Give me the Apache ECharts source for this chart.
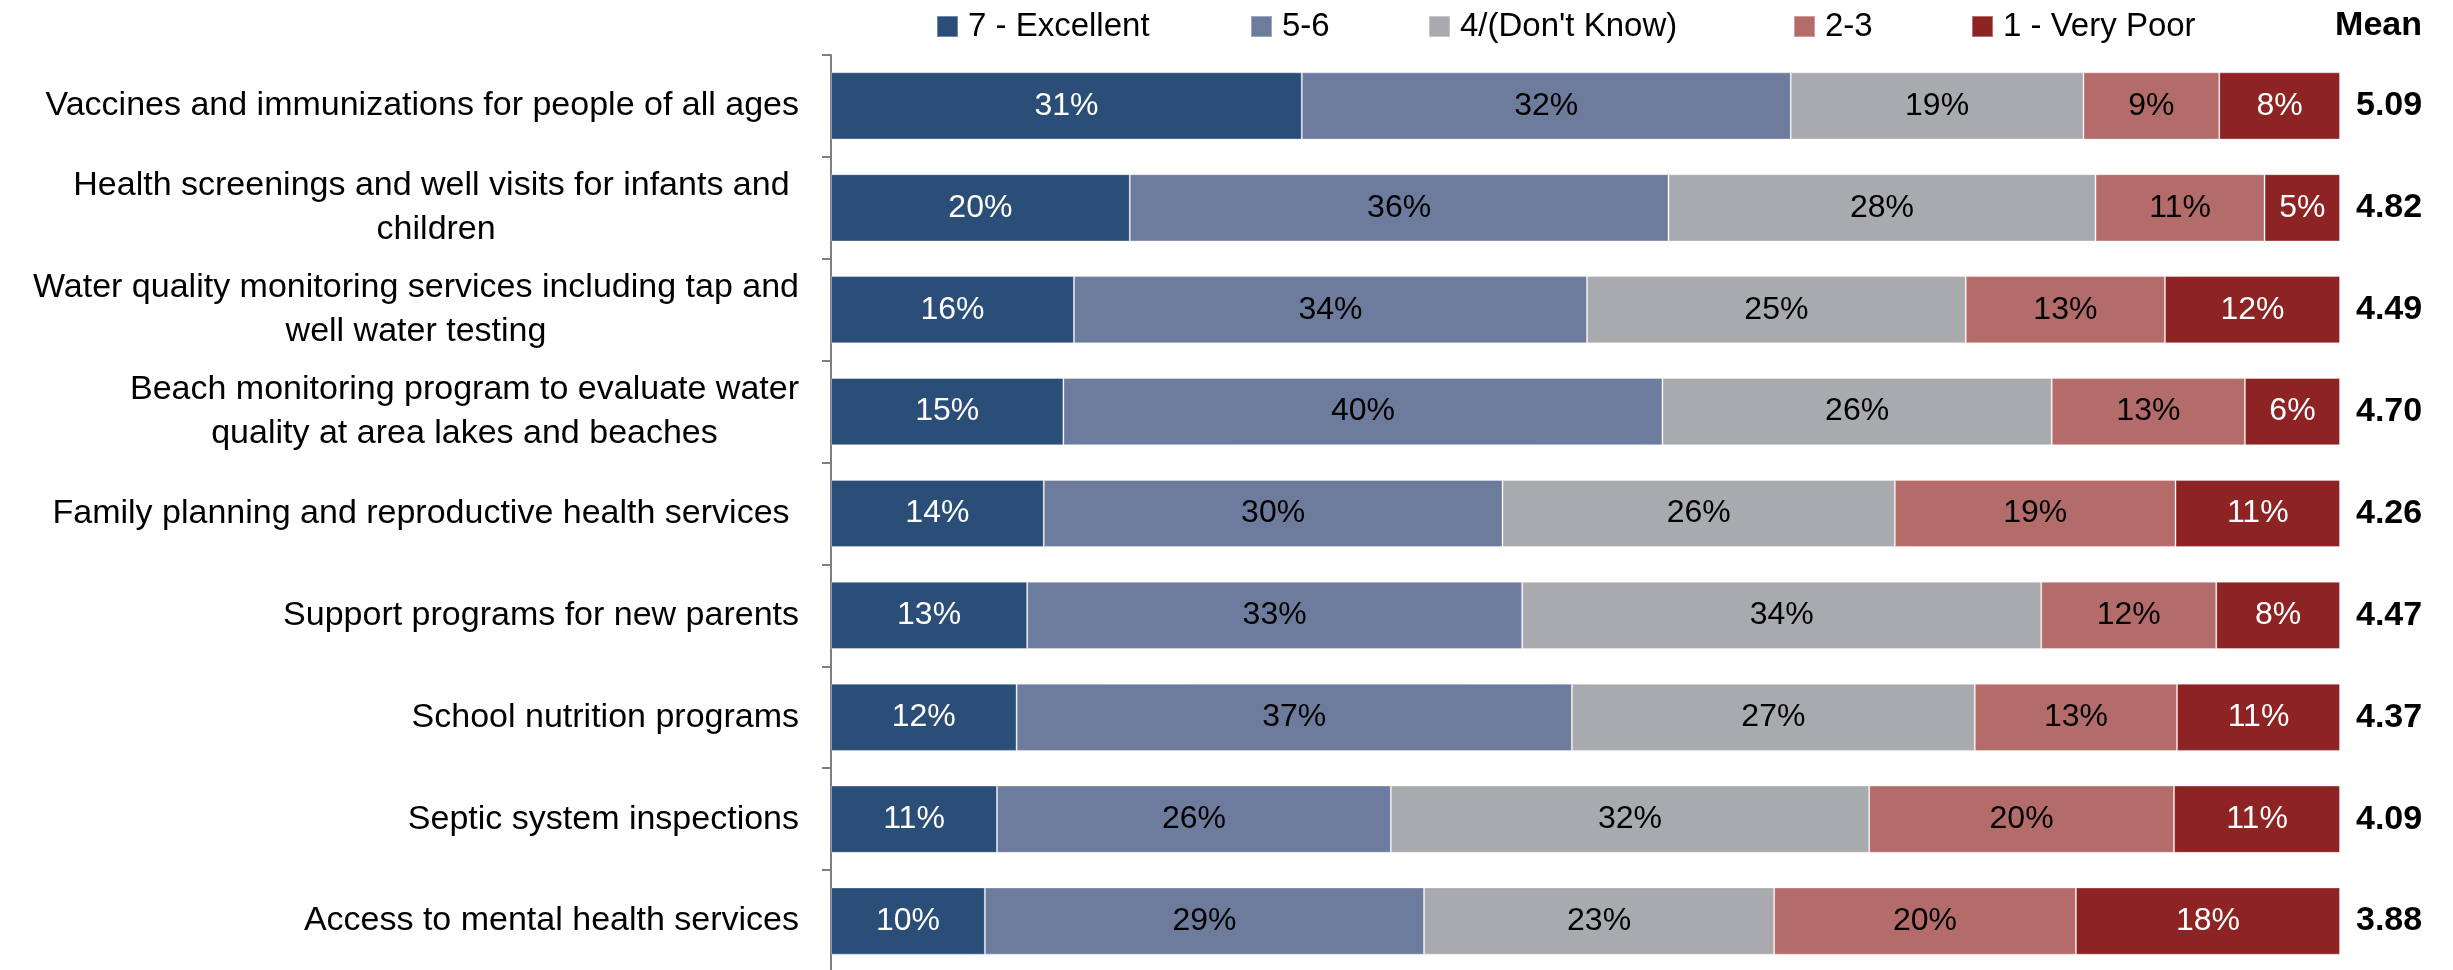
<!DOCTYPE html>
<html>
<head>
<meta charset="utf-8">
<title>Service ratings</title>
<script src="https://cdn.jsdelivr.net/npm/echarts@6/dist/echarts.min.js"></script>
<style>
  html, body { margin: 0; padding: 0; background: #ffffff; }
  #chart { width: 2453px; height: 970px; }
</style>
</head>
<body>
<div id="chart"></div>
<script>
// Services, listed top to bottom
const categories = [
  'Vaccines and immunizations for people of all ages',
  'Health screenings and well visits for infants and \nchildren',
  'Water quality monitoring services including tap and\nwell water testing',
  'Beach monitoring program to evaluate water\nquality at area lakes and beaches',
  'Family planning and reproductive health services ',
  'Support programs for new parents',
  'School nutrition programs',
  'Septic system inspections',
  'Access to mental health services'
];

// Rating groups (legend order)
const ratingNames = ['7 - Excellent', '5-6', '4/(Don\'t Know)', '2-3', '1 - Very Poor'];

// Share of respondents (%) per rating group, one value per service
const excellent = [31.2, 19.8, 16.1, 15.4, 14.1, 13.0, 12.3, 11.0, 10.2];
const good      = [32.4, 35.7, 34.0, 39.7, 30.4, 32.8, 36.8, 26.1, 29.1];
const neutral   = [19.4, 28.3, 25.1, 25.8, 26.0, 34.4, 26.7, 31.7, 23.2];
const fair      = [ 9.0, 11.2, 13.2, 12.8, 18.6, 11.6, 13.4, 20.2, 20.0];
const veryPoor  = [ 8.0,  5.0, 11.6,  6.3, 10.9,  8.2, 10.8, 11.0, 17.5];

// Mean rating per service
const means = [5.09, 4.82, 4.49, 4.70, 4.26, 4.47, 4.37, 4.09, 3.88];

const seriesValues = [excellent, good, neutral, fair, veryPoor];
const colors = ['#2a4e78', '#6d7b9d', '#a9aaae', '#b36c69', '#8d2322'];
const labelColors = ['#ffffff', '#000000', '#000000', '#000000', '#ffffff'];
const FONT = '"Liberation Sans", Arial, sans-serif';

// Legend entries sit at fixed x positions along the top row
const legendLeft = [936, 1250, 1428, 1793, 1971];

const chart = echarts.init(document.getElementById('chart'), null, { renderer: 'canvas' });

const option = {
  backgroundColor: '#ffffff',
  animation: false,
  textStyle: { fontFamily: FONT },
  title: {
    text: 'Mean',
    right: 31,
    top: 9,
    padding: 0,
    textStyle: { fontFamily: FONT, fontSize: 34, fontWeight: 'bold', color: '#000000' }
  },
  legend: ratingNames.map((name, i) => ({
    data: [name],
    left: legendLeft[i],
    top: 10,
    padding: 0,
    itemWidth: 21,
    itemHeight: 21,
    icon: 'rect',
    selectedMode: false,
    textStyle: { fontFamily: FONT, fontSize: 33, color: '#000000', padding: [0, 0, 0, 5] }
  })),
  grid: {
    left: 831,
    top: 55,
    width: 1509,
    height: 917,
    containLabel: false,
    outerBoundsMode: 'none'
  },
  xAxis: {
    type: 'value',
    min: 0,
    max: 100,
    show: false
  },
  yAxis: [
    {
      type: 'category',
      data: categories,
      inverse: true,
      position: 'left',
      axisLine: { show: true, lineStyle: { color: '#7f7f7f', width: 2 } },
      axisTick: { show: true, length: 9, lineStyle: { color: '#7f7f7f', width: 2 } },
      splitLine: { show: false },
      axisLabel: {
        margin: 32,
        color: '#000000',
        fontFamily: FONT,
        fontSize: 34,
        lineHeight: 44,
        formatter: (v) => v.split('\n').map(line => '{c|' + line + '}').join('\n'),
        rich: {
          c: { align: 'center', fontFamily: FONT, fontSize: 34, lineHeight: 44, color: '#000000' }
        }
      }
    },
    {
      type: 'category',
      data: means.map(m => m.toFixed(2)),
      inverse: true,
      position: 'right',
      axisLine: { show: false },
      axisTick: { show: false },
      splitLine: { show: false },
      axisLabel: {
        margin: 16,
        align: 'left',
        color: '#000000',
        fontFamily: FONT,
        fontSize: 34,
        fontWeight: 'bold'
      }
    }
  ],
  series: ratingNames.map((name, i) => ({
    name: name,
    type: 'bar',
    stack: 'rating',
    yAxisIndex: 0,
    barCategoryGap: '34%',
    data: seriesValues[i],
    itemStyle: { color: colors[i], borderColor: 'rgba(255,255,255,0.35)', borderWidth: 1 },
    label: {
      show: true,
      position: 'inside',
      color: labelColors[i],
      fontFamily: FONT,
      fontSize: 32,
      formatter: (p) => Math.round(p.value) + '%'
    },
    emphasis: { disabled: true }
  }))
};

chart.setOption(option);
</script>
</body>
</html>
